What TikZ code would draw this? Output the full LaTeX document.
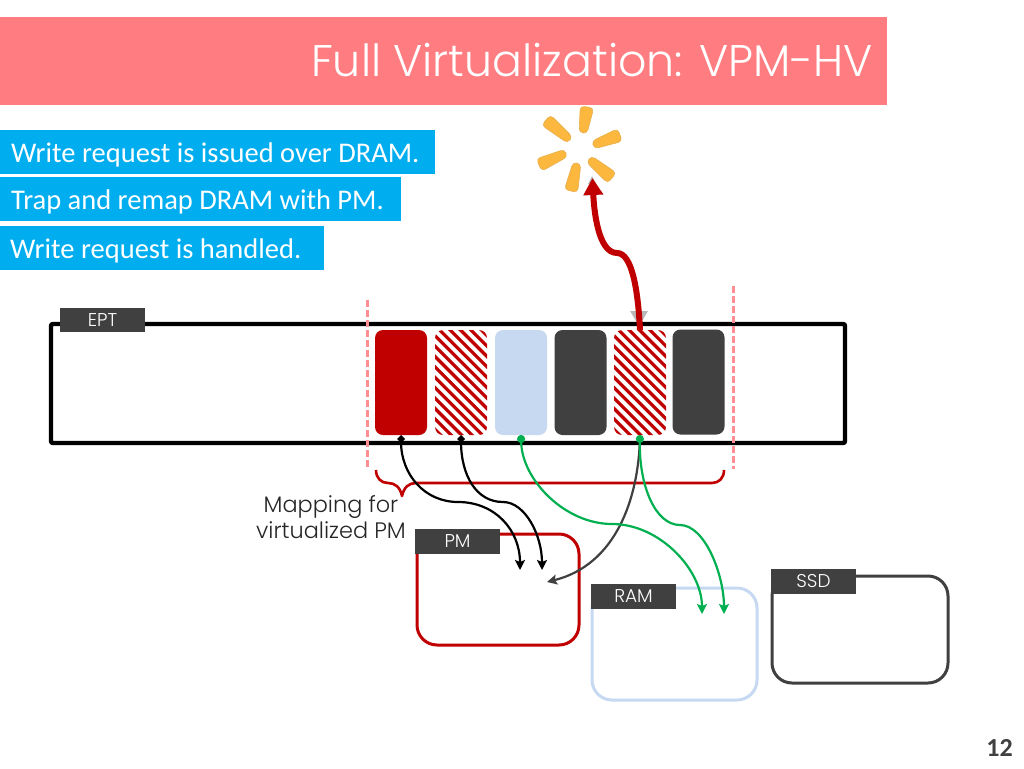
\documentclass[tikz,border=0pt]{standalone}
\usepackage{fontspec}
\usetikzlibrary{arrows.meta,calc}
\setmainfont{Carlito}
\newfontfamily\gothic{Poppins}[UprightFont=* Light]
\definecolor{titlered}{HTML}{FF7C80}
\definecolor{labelblue}{HTML}{00ADEF}
\definecolor{pmred}{HTML}{C00000}
\definecolor{ramblue}{HTML}{C6D9F1}
\definecolor{dark}{HTML}{404040}
\definecolor{dashpink}{HTML}{FF8F92}
\definecolor{green1}{HTML}{00B050}
\definecolor{petal}{HTML}{FBB73E}
\definecolor{petaledge}{HTML}{E8B04E}
\tikzset{
  x=1pt,y=-1pt,
  stepbox/.style={anchor=north west,inner sep=0pt,outer sep=0pt,fill=labelblue},
  steptext/.style={anchor=base west,inner sep=0pt,text=white,font=\fontsize{28.5}{28.5}\selectfont},
  tagbox/.style={inner sep=0pt,outer sep=0pt,fill=dark,text=white,minimum width=85pt,minimum height=24.5pt,font=\gothic\fontsize{18.5}{18.5}\selectfont},
  cellbase/.style={inner sep=0pt,outer sep=0pt,rounded corners=8pt,minimum width=52pt,minimum height=105pt},
  solidcell/.style={cellbase,fill=#1},
  hatched/.style={cellbase,fill=white,path picture={
    \foreach \k in {-14,...,14}{
      \draw[pmred,line width=3.2pt]
        ($(path picture bounding box.center)+(\k*10.4-60,-60)$) -- ++(120,120);
    }}},
  store/.style={inner sep=0pt,outer sep=0pt,rounded corners=20pt,line width=3pt,draw=#1,fill=white},
  blackconn/.style={line width=2.2pt,black,{Diamond[length=8pt,width=8pt]}-{Stealth[length=10pt,width=10pt,inset=2pt]}},
  greenconn/.style={line width=2.2pt,green1,{Circle[length=8pt,width=8pt]}-{Stealth[length=10pt,width=10pt,inset=2pt]}},
  darkconn/.style={line width=2.2pt,dark,-{Stealth[length=10pt,width=10pt,inset=2pt]}},
  boundary/.style={dashpink,line width=3pt,dash pattern=on 7pt off 3pt},
}
\newcommand{\petalshape}[4]{%
  \pgfmathsetmacro{\pdx}{#3-#1}\pgfmathsetmacro{\pdy}{#4-#2}%
  \pgfmathsetmacro{\plen}{sqrt(\pdx*\pdx+\pdy*\pdy)}%
  \pgfmathsetmacro{\pnx}{-\pdy/\plen}\pgfmathsetmacro{\pny}{\pdx/\plen}%
  \filldraw[fill=petal,draw=petaledge,line width=.6pt,rounded corners=4pt]
    ({#1+4*\pnx},{#2+4*\pny}) -- ({#3+6.8*\pnx},{#4+6.8*\pny}) --
    ({#3-6.8*\pnx},{#4-6.8*\pny}) -- ({#1-4*\pnx},{#2-4*\pny}) -- cycle;}
\begin{document}
\begin{tikzpicture}
\useasboundingbox (0,0) rectangle (1024,768);
\fill[white] (0,0) rectangle (1024,768);
% title
\node[fill=titlered,inner sep=0pt,outer sep=0pt,anchor=north west,minimum width=887pt,minimum height=88pt] (titlebar) at (0,17) {};
\node[anchor=base east,inner sep=0pt,text=white,font=\gothic\fontsize{44.3}{44.3}\selectfont] (titletext) at (873,77) {Full Virtualization: VPM-HV};
% step labels
\node[stepbox,minimum width=435pt,minimum height=44pt] (s1) at (0,130) {};
\node[steptext] (s1t) at (11,162) {Write request is issued over DRAM.};
\node[stepbox,minimum width=401pt,minimum height=44pt] (s2) at (0,177) {};
\node[steptext] (s2t) at (11,209) {Trap and remap DRAM with PM.};
\node[stepbox,minimum width=324pt,minimum height=44pt] (s3) at (0,226) {};
\node[steptext] (s3t) at (10,258) {Write request is handled.};
% splat
\petalshape{583}{133}{587}{107}
\petalshape{593}{145}{620}{135}
\petalshape{589}{159}{612}{178}
\petalshape{577}{163}{571}{191}
\petalshape{566}{153}{539}{165}
\petalshape{570}{140}{546}{120}
% EPT
\node[draw=black,line width=4.4pt,inner sep=0pt,outer sep=0pt,rounded corners=2pt,anchor=north west,minimum width=794pt,minimum height=119pt] (ept) at (51,324) {};
\node[tagbox] (epttag) at (102.5,320) {EPT};
% gray triangle
\fill[gray!55] (630,311) -- (648,311) -- (639,326) -- cycle;
\fill[gray!55] (588,184) -- (596,184) -- (592,176) -- cycle;
% cells
\node[solidcell=pmred] (c1) at (401,382.5) {};
\node[hatched] (c2) at (461,382.5) {};
\node[solidcell=ramblue] (c3) at (521,382.5) {};
\node[solidcell=dark] (c4) at (580.5,382.5) {};
\node[hatched] (c5) at (640,382.5) {};
\node[solidcell=dark] (c6) at (698.5,382) {};
% boundaries
\coordinate (ltop) at (367,300); \coordinate (lbot) at (367,469);
\coordinate (rtop) at (733,286); \coordinate (rbot) at (733,469);
\draw[boundary] (ltop) -- (lbot);
\draw[boundary] (rtop) -- (rbot);
% brace
\coordinate (bl) at (376,470); \coordinate (br) at (724,470); \coordinate (btip) at (402,496);
\draw[pmred,line width=2.6pt,line join=round] (bl) .. controls (376,478) and (381,483) .. (388,483)
  .. controls (395,483) and (400,487) .. (btip)
  .. controls (404,487) and (409,483) .. (416,483) -- (712,483)
  .. controls (719,483) and (724,478) .. (br);
\node[inner sep=0pt,align=center,font=\gothic\fontsize{22.4}{26.5}\selectfont,text=black!85] (maplabel) at (331,517) {Mapping for\\virtualized PM};
% stores
\node[store=ramblue,anchor=north west,minimum width=165pt,minimum height=112pt] (ram) at (592,588) {};
\node[store=pmred,anchor=north west,minimum width=162pt,minimum height=111pt] (pm) at (417,534) {};
\node[store=dark,anchor=north west,minimum width=176pt,minimum height=107pt] (ssd) at (772,576) {};
\node[tagbox] (pmtag) at (457.5,541.5) {PM};
\node[tagbox] (ramtag) at (633.5,596.5) {RAM};
\node[tagbox] (ssdtag) at (813.5,581.5) {SSD};
% targets
\coordinate (t1) at (520,570); \coordinate (t2) at (542,570);
\coordinate (t3) at (547,582);
\coordinate (t4) at (702,614); \coordinate (t5) at (724,614);
\coordinate (boom) at (592.5,178);
% connectors
\draw[blackconn] (c1.south) .. controls (401,475) and (425,502) .. (458,502)
  .. controls (495,502) and (520,530) .. (t1);
\draw[blackconn] (c2.south) .. controls (461,475) and (476,502) .. (503,502)
  .. controls (525,502) and (542,535) .. (t2);
\draw[darkconn] (c5.south) .. controls (639,500) and (615,565) .. (t3);
\draw[greenconn] (c3.south) .. controls (522,480) and (565,524) .. (612,524)
  .. controls (660,524) and (702,570) .. (t4);
\draw[greenconn] (c5.south) .. controls (639,485) and (655,525) .. (680,525)
  .. controls (705,525) and (724,575) .. (t5);
% red arrow
\draw[pmred,line width=6pt,-{Triangle[length=17pt,width=19pt]}] (c5.north)
  .. controls (638,290) and (632,253) .. (617,253)
  .. controls (598,253) and (594,210) .. (boom);
% page number
\node[anchor=base east,inner sep=0pt,font=\bfseries\fontsize{26}{26}\selectfont,text=dark] (page) at (1013,756) {12};
\end{tikzpicture}
\end{document}
